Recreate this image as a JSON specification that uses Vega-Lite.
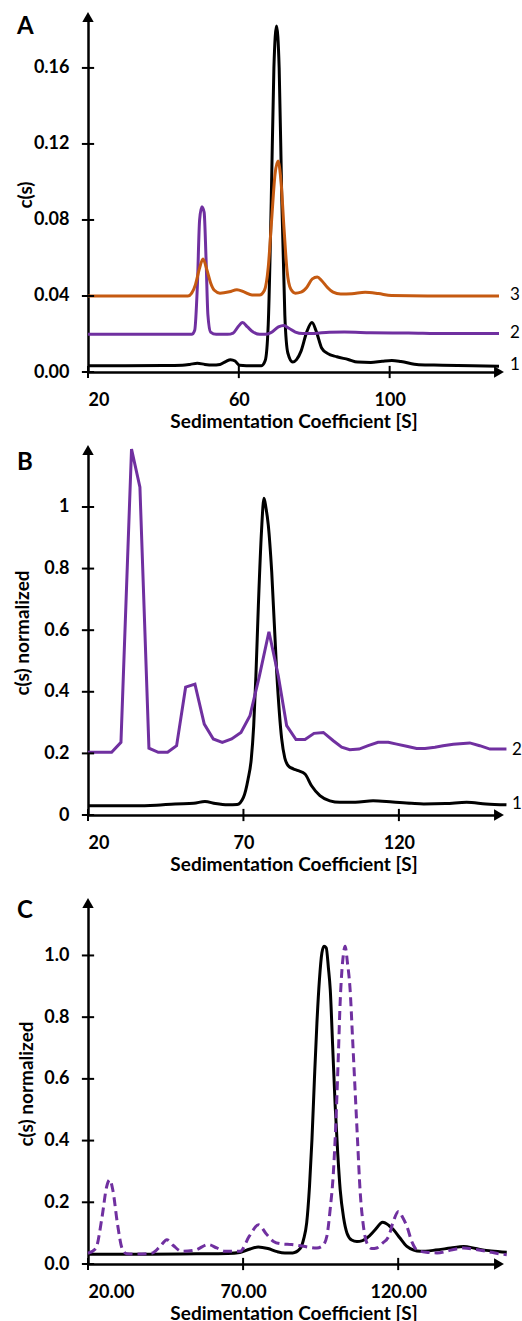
{
  "$schema": "https://vega.github.io/schema/vega-lite/v6.json",
  "padding": {"left": 13, "top": 12, "right": 0, "bottom": 0},
  "background": "white",
  "config": {
    "view": {"stroke": null},
    "font": "Lato",
    "axis": {
      "grid": false,
      "domainColor": "black",
      "domainWidth": 2.5,
      "ticks": false,
      "tickSize": 0,
      "labelFont": "Lato",
      "labelFontWeight": "bold",
      "labelFontSize": 18,
      "labelColor": "black",
      "titleFont": "Lato",
      "titleFontWeight": "bold",
      "titleFontSize": 19,
      "titleColor": "black"
    },
    "axisY": {"labelPadding": 19, "titlePadding": 4, "titleBaseline": "middle"},
    "axisX": {"labelPadding": 19, "titlePadding": 3}
  },
  "datasets": {
    "A1": [
      {"s":20,"c":0.0033},{"s":30,"c":0.0033},{"s":40,"c":0.0034},{"s":45,"c":0.0036},{"s":47,"c":0.004},{"s":49,"c":0.0046},{"s":51,"c":0.004},{"s":53,"c":0.0037},{"s":55,"c":0.004},{"s":56.5,"c":0.0055},{"s":57.8,"c":0.0065},{"s":59,"c":0.0058},{"s":60.2,"c":0.0035},{"s":62,"c":0.0033},{"s":66,"c":0.0033},{"s":67,"c":0.006},{"s":67.8,"c":0.025},{"s":68.6,"c":0.09},{"s":69.3,"c":0.16},{"s":70,"c":0.182},{"s":70.7,"c":0.16},{"s":71.4,"c":0.09},{"s":72.2,"c":0.03},{"s":73,"c":0.01},{"s":74.3,"c":0.0052},{"s":75.3,"c":0.0065},{"s":76.5,"c":0.011},{"s":78,"c":0.021},{"s":79.4,"c":0.026},{"s":80.6,"c":0.021},{"s":82,"c":0.0125},{"s":83.5,"c":0.0098},{"s":86,"c":0.008},{"s":89,"c":0.0066},{"s":91.5,"c":0.0052},{"s":95,"c":0.005},{"s":98,"c":0.0056},{"s":100.6,"c":0.006},{"s":103,"c":0.0055},{"s":107.7,"c":0.0038},{"s":114,"c":0.0036},{"s":122,"c":0.0033},{"s":129,"c":0.003}
    ],
    "A2": [
      {"s":20,"c":0.0198},{"s":30,"c":0.0198},{"s":40,"c":0.0198},{"s":47.5,"c":0.0198},{"s":48.3,"c":0.022},{"s":49,"c":0.045},{"s":49.6,"c":0.08},{"s":50.2,"c":0.087},{"s":50.8,"c":0.084},{"s":51.3,"c":0.06},{"s":51.8,"c":0.03},{"s":52.5,"c":0.021},{"s":54,"c":0.0198},{"s":57,"c":0.0198},{"s":58.5,"c":0.0205},{"s":59.8,"c":0.0238},{"s":61,"c":0.026},{"s":62.3,"c":0.0237},{"s":63.8,"c":0.021},{"s":65.5,"c":0.0198},{"s":67,"c":0.0198},{"s":68.5,"c":0.0207},{"s":70.5,"c":0.0237},{"s":71.9,"c":0.0245},{"s":73.3,"c":0.023},{"s":75,"c":0.021},{"s":77,"c":0.0202},{"s":80,"c":0.0203},{"s":84,"c":0.0209},{"s":88,"c":0.021},{"s":95,"c":0.0207},{"s":105,"c":0.0205},{"s":115,"c":0.0202},{"s":122,"c":0.0202},{"s":129,"c":0.0202}
    ],
    "A3": [
      {"s":20,"c":0.04},{"s":35,"c":0.04},{"s":46.5,"c":0.04},{"s":47.5,"c":0.0415},{"s":48.5,"c":0.046},{"s":49.5,"c":0.054},{"s":50.5,"c":0.0595},{"s":51.5,"c":0.054},{"s":52.5,"c":0.047},{"s":53.5,"c":0.043},{"s":55,"c":0.0415},{"s":57.5,"c":0.0422},{"s":59.5,"c":0.0433},{"s":61.5,"c":0.042},{"s":63.5,"c":0.0405},{"s":65.5,"c":0.0405},{"s":66.8,"c":0.043},{"s":67.8,"c":0.055},{"s":68.7,"c":0.08},{"s":69.6,"c":0.104},{"s":70.4,"c":0.111},{"s":71.2,"c":0.1},{"s":72,"c":0.075},{"s":72.8,"c":0.053},{"s":73.8,"c":0.0435},{"s":75,"c":0.0415},{"s":76.5,"c":0.042},{"s":78,"c":0.0445},{"s":79.5,"c":0.049},{"s":80.8,"c":0.05},{"s":82,"c":0.048},{"s":83.5,"c":0.0445},{"s":85,"c":0.042},{"s":87,"c":0.041},{"s":90,"c":0.0412},{"s":93.5,"c":0.042},{"s":97,"c":0.0413},{"s":100.5,"c":0.0402},{"s":110,"c":0.04},{"s":120,"c":0.04},{"s":129,"c":0.04}
    ],
    "B1": [
      {"s":20,"c":0.03},{"s":35,"c":0.03},{"s":42,"c":0.032},{"s":48,"c":0.036},{"s":54,"c":0.038},{"s":57.6,"c":0.044},{"s":61,"c":0.037},{"s":65,"c":0.033},{"s":68,"c":0.034},{"s":70,"c":0.057},{"s":71.5,"c":0.117},{"s":72.5,"c":0.18},{"s":73.3,"c":0.29},{"s":74,"c":0.45},{"s":74.8,"c":0.68},{"s":75.8,"c":0.92},{"s":76.6,"c":1.028},{"s":77.2,"c":1.0},{"s":78,"c":0.94},{"s":79.1,"c":0.788},{"s":80.7,"c":0.463},{"s":82.3,"c":0.247},{"s":83.3,"c":0.185},{"s":84.4,"c":0.16},{"s":86,"c":0.15},{"s":87.6,"c":0.144},{"s":89.8,"c":0.133},{"s":91.9,"c":0.095},{"s":94.6,"c":0.063},{"s":97.8,"c":0.046},{"s":101,"c":0.041},{"s":106,"c":0.041},{"s":111.7,"c":0.046},{"s":118,"c":0.042},{"s":124,"c":0.038},{"s":128,"c":0.036},{"s":135,"c":0.037},{"s":141.8,"c":0.041},{"s":148,"c":0.036},{"s":154.6,"c":0.033}
    ],
    "B2": [
      {"s":20,"c":0.2035},{"s":27.6,"c":0.2035},{"s":30.6,"c":0.236},{"s":34,"c":1.188},{"s":36.7,"c":1.064},{"s":39.6,"c":0.217},{"s":42.6,"c":0.2035},{"s":45.6,"c":0.2035},{"s":48.5,"c":0.225},{"s":51.4,"c":0.415},{"s":54.4,"c":0.425},{"s":57.4,"c":0.295},{"s":60.3,"c":0.247},{"s":63.2,"c":0.236},{"s":66.2,"c":0.247},{"s":69.2,"c":0.268},{"s":72.1,"c":0.322},{"s":75.1,"c":0.45},{"s":78.2,"c":0.595},{"s":81.2,"c":0.452},{"s":83.9,"c":0.29},{"s":86.9,"c":0.245},{"s":89.8,"c":0.245},{"s":92.7,"c":0.265},{"s":95.7,"c":0.268},{"s":98.9,"c":0.241},{"s":101.6,"c":0.22},{"s":104.2,"c":0.212},{"s":107.2,"c":0.214},{"s":110.1,"c":0.225},{"s":113.3,"c":0.236},{"s":116.6,"c":0.236},{"s":119.3,"c":0.23},{"s":122.5,"c":0.223},{"s":125.7,"c":0.216},{"s":128.4,"c":0.216},{"s":131.6,"c":0.22},{"s":134.2,"c":0.225},{"s":137.5,"c":0.23},{"s":142.8,"c":0.234},{"s":146,"c":0.225},{"s":149.3,"c":0.214},{"s":154.6,"c":0.214}
    ],
    "C1": [
      {"s":20,"c":0.032},{"s":40,"c":0.032},{"s":55,"c":0.033},{"s":65,"c":0.034},{"s":69,"c":0.037},{"s":72,"c":0.048},{"s":74.9,"c":0.055},{"s":78,"c":0.05},{"s":81,"c":0.04},{"s":83.5,"c":0.036},{"s":86,"c":0.036},{"s":88.4,"c":0.05},{"s":89.5,"c":0.08},{"s":90.5,"c":0.133},{"s":91.4,"c":0.25},{"s":92.2,"c":0.403},{"s":93,"c":0.6},{"s":93.8,"c":0.781},{"s":94.6,"c":0.92},{"s":95.4,"c":1.008},{"s":96.1,"c":1.03},{"s":96.8,"c":1.025},{"s":97.5,"c":0.96},{"s":98.1,"c":0.889},{"s":98.9,"c":0.7},{"s":99.7,"c":0.51},{"s":100.5,"c":0.36},{"s":101.3,"c":0.241},{"s":102.4,"c":0.15},{"s":103.5,"c":0.1},{"s":105,"c":0.078},{"s":106.7,"c":0.073},{"s":108.5,"c":0.076},{"s":109.9,"c":0.084},{"s":112.5,"c":0.11},{"s":115,"c":0.135},{"s":117,"c":0.125},{"s":118.5,"c":0.111},{"s":120.5,"c":0.085},{"s":122.8,"c":0.057},{"s":125,"c":0.045},{"s":127.1,"c":0.041},{"s":132,"c":0.045},{"s":137,"c":0.052},{"s":141.1,"c":0.057},{"s":145,"c":0.05},{"s":150,"c":0.042},{"s":155,"c":0.038}
    ],
    "C2": [
      {"s":20,"c":0.035},{"s":22.5,"c":0.05},{"s":24.5,"c":0.15},{"s":26,"c":0.25},{"s":27,"c":0.273},{"s":28,"c":0.24},{"s":29.5,"c":0.13},{"s":31,"c":0.05},{"s":32.5,"c":0.033},{"s":35,"c":0.032},{"s":40.5,"c":0.035},{"s":43.5,"c":0.06},{"s":45.4,"c":0.079},{"s":47.5,"c":0.06},{"s":50.2,"c":0.041},{"s":54.5,"c":0.045},{"s":58.8,"c":0.063},{"s":61.5,"c":0.052},{"s":64.2,"c":0.041},{"s":69,"c":0.041},{"s":72,"c":0.09},{"s":75,"c":0.127},{"s":77.3,"c":0.1},{"s":79.8,"c":0.073},{"s":82.5,"c":0.065},{"s":85.7,"c":0.063},{"s":89,"c":0.058},{"s":93.8,"c":0.052},{"s":95.7,"c":0.06},{"s":97,"c":0.09},{"s":98.1,"c":0.18},{"s":99.1,"c":0.295},{"s":100,"c":0.48},{"s":100.7,"c":0.673},{"s":101.3,"c":0.85},{"s":101.8,"c":0.943},{"s":102.3,"c":1.0},{"s":102.9,"c":1.03},{"s":103.6,"c":0.98},{"s":104.5,"c":0.889},{"s":105.3,"c":0.73},{"s":106.1,"c":0.565},{"s":106.9,"c":0.4},{"s":107.7,"c":0.241},{"s":108.7,"c":0.13},{"s":109.9,"c":0.068},{"s":111.5,"c":0.05},{"s":113.1,"c":0.052},{"s":115,"c":0.068},{"s":116.9,"c":0.089},{"s":118.5,"c":0.14},{"s":120.1,"c":0.17},{"s":121.5,"c":0.15},{"s":122.8,"c":0.122},{"s":124.5,"c":0.07},{"s":126,"c":0.046},{"s":129,"c":0.038},{"s":132.5,"c":0.036},{"s":137,"c":0.045},{"s":141.1,"c":0.052},{"s":145,"c":0.047},{"s":148.6,"c":0.041},{"s":152,"c":0.034},{"s":155,"c":0.03}
    ]
  },
  "vconcat": [
    {
      "spacing": 12,
      "vconcat": [
        {
          "width": 411,
          "height": 355,
          "layer": [
            {
              "data": {"name": "A1"},
              "mark": {"type": "line", "color": "black", "strokeWidth": 3, "interpolate": "monotone"},
              "encoding": {
                "x": {"field": "s", "type": "quantitative", "scale": {"domain": [20, 129], "nice": false, "zero": false},
                      "axis": {"values": [20, 60, 100], "title": "Sedimentation Coefficient [S]"}},
                "y": {"field": "c", "type": "quantitative", "scale": {"domain": [0, 0.1868], "nice": false},
                      "axis": {"values": [0, 0.04, 0.08, 0.12, 0.16], "format": ".2f", "title": "c(s)", "titleX": -63}}
              }
            },
            {
              "data": {"name": "A2"},
              "mark": {"type": "line", "color": "#7030A0", "strokeWidth": 3, "interpolate": "monotone"},
              "encoding": {"x": {"field": "s", "type": "quantitative"}, "y": {"field": "c", "type": "quantitative"}}
            },
            {
              "data": {"name": "A3"},
              "mark": {"type": "line", "color": "#C55A11", "strokeWidth": 3, "interpolate": "monotone"},
              "encoding": {"x": {"field": "s", "type": "quantitative"}, "y": {"field": "c", "type": "quantitative"}}
            },
            {
              "data": {"values": [{"c": 0}, {"c": 0.04}, {"c": 0.08}, {"c": 0.12}, {"c": 0.16}]},
              "mark": {"type": "point", "shape": "stroke", "filled": false, "color": "black", "size": 150, "strokeWidth": 2, "opacity": 1},
              "encoding": {"x": {"datum": 20}, "y": {"field": "c", "type": "quantitative"}}
            },
            {
              "data": {"values": [{"s": 20}, {"s": 60}, {"s": 100}]},
              "mark": {"type": "point", "shape": "stroke", "angle": 90, "filled": false, "color": "black", "size": 150, "strokeWidth": 2, "opacity": 1},
              "encoding": {"x": {"field": "s", "type": "quantitative"}, "y": {"datum": 0}}
            },
            {
              "data": {"values": [{}]},
              "mark": {"type": "point", "shape": "triangle-up", "filled": true, "color": "black", "size": 130, "opacity": 1},
              "encoding": {"x": {"datum": 20}, "y": {"datum": 0.1868}}
            },
            {
              "data": {"values": [{}]},
              "mark": {"type": "point", "shape": "triangle-right", "filled": true, "color": "black", "size": 130, "opacity": 1},
              "encoding": {"x": {"datum": 129}, "y": {"datum": 0}}
            },
            {
              "data": {"values": [{"s": 129, "c": 0.0035, "label": "1"}, {"s": 129, "c": 0.0205, "label": "2"}, {"s": 129, "c": 0.0405, "label": "3"}]},
              "mark": {"type": "text", "align": "left", "baseline": "middle", "dx": 11, "fontSize": 17, "font": "Lato", "color": "black"},
              "encoding": {"x": {"field": "s", "type": "quantitative"}, "y": {"field": "c", "type": "quantitative"}, "text": {"field": "label"}}
            },
            {
              "data": {"values": [{}]},
              "mark": {"type": "text", "text": "A", "align": "left", "baseline": "top", "dx": -71, "dy": -2, "fontSize": 24, "fontWeight": "bold", "font": "Lato", "color": "black"},
              "encoding": {"x": {"datum": 20}, "y": {"datum": 0.1868}}
            }
          ]
        },
        {
          "width": 411,
          "height": 365,
          "layer": [
            {
              "data": {"name": "B1"},
              "mark": {"type": "line", "color": "black", "strokeWidth": 3, "interpolate": "monotone"},
              "encoding": {
                "x": {"field": "s", "type": "quantitative", "scale": {"domain": [20, 152.2], "nice": false, "zero": false},
                      "axis": {"values": [20, 70, 120], "title": "Sedimentation Coefficient [S]"}},
                "y": {"field": "c", "type": "quantitative", "scale": {"domain": [0, 1.185], "nice": false},
                      "axis": {"values": [0, 0.2, 0.4, 0.6, 0.8, 1], "format": "~g", "title": "c(s) normalized", "titleX": -66}}
              }
            },
            {
              "data": {"name": "B2"},
              "mark": {"type": "line", "color": "#7030A0", "strokeWidth": 3, "interpolate": "linear"},
              "encoding": {"x": {"field": "s", "type": "quantitative"}, "y": {"field": "c", "type": "quantitative"}}
            },
            {
              "data": {"values": [{"c": 0}, {"c": 0.2}, {"c": 0.4}, {"c": 0.6}, {"c": 0.8}, {"c": 1}]},
              "mark": {"type": "point", "shape": "stroke", "filled": false, "color": "black", "size": 150, "strokeWidth": 2, "opacity": 1},
              "encoding": {"x": {"datum": 20}, "y": {"field": "c", "type": "quantitative"}}
            },
            {
              "data": {"values": [{"s": 20}, {"s": 70}, {"s": 120}]},
              "mark": {"type": "point", "shape": "stroke", "angle": 90, "filled": false, "color": "black", "size": 150, "strokeWidth": 2, "opacity": 1},
              "encoding": {"x": {"field": "s", "type": "quantitative"}, "y": {"datum": 0}}
            },
            {
              "data": {"values": [{}]},
              "mark": {"type": "point", "shape": "triangle-up", "filled": true, "color": "black", "size": 130, "opacity": 1},
              "encoding": {"x": {"datum": 20}, "y": {"datum": 1.185}}
            },
            {
              "data": {"values": [{}]},
              "mark": {"type": "point", "shape": "triangle-right", "filled": true, "color": "black", "size": 130, "opacity": 1},
              "encoding": {"x": {"datum": 152.2}, "y": {"datum": 0}}
            },
            {
              "data": {"values": [{"s": 152.2, "c": 0.037, "label": "1"}, {"s": 152.2, "c": 0.21, "label": "2"}]},
              "mark": {"type": "text", "align": "left", "baseline": "middle", "dx": 13, "fontSize": 17, "font": "Lato", "color": "black"},
              "encoding": {"x": {"field": "s", "type": "quantitative"}, "y": {"field": "c", "type": "quantitative"}, "text": {"field": "label"}}
            },
            {
              "data": {"values": [{}]},
              "mark": {"type": "text", "text": "B", "align": "left", "baseline": "top", "dx": -71, "dy": 1, "fontSize": 24, "fontWeight": "bold", "font": "Lato", "color": "black"},
              "encoding": {"x": {"datum": 20}, "y": {"datum": 1.185}}
            }
          ]
        }
      ]
    },
    {
      "width": 411,
      "height": 361,
      "layer": [
        {
          "data": {"name": "C1"},
          "mark": {"type": "line", "color": "black", "strokeWidth": 3, "interpolate": "monotone"},
          "encoding": {
            "x": {"field": "s", "type": "quantitative", "scale": {"domain": [20, 152.5], "nice": false, "zero": false},
                  "axis": {"values": [20, 70, 120], "format": ".2f", "title": "Sedimentation Coefficient [S]"}},
            "y": {"field": "c", "type": "quantitative", "scale": {"domain": [0, 1.17], "nice": false},
                  "axis": {"values": [0, 0.2, 0.4, 0.6, 0.8, 1], "format": ".1f", "title": "c(s) normalized", "titleX": -62}}
          }
        },
        {
          "data": {"name": "C2"},
          "mark": {"type": "line", "color": "#7030A0", "strokeWidth": 3, "strokeDash": [9, 5], "interpolate": "monotone"},
          "encoding": {"x": {"field": "s", "type": "quantitative"}, "y": {"field": "c", "type": "quantitative"}}
        },
        {
          "data": {"values": [{"c": 0}, {"c": 0.2}, {"c": 0.4}, {"c": 0.6}, {"c": 0.8}, {"c": 1}]},
          "mark": {"type": "point", "shape": "stroke", "filled": false, "color": "black", "size": 150, "strokeWidth": 2, "opacity": 1},
          "encoding": {"x": {"datum": 20}, "y": {"field": "c", "type": "quantitative"}}
        },
        {
          "data": {"values": [{"s": 20}, {"s": 70}, {"s": 120}]},
          "mark": {"type": "point", "shape": "stroke", "angle": 90, "filled": false, "color": "black", "size": 150, "strokeWidth": 2, "opacity": 1},
          "encoding": {"x": {"field": "s", "type": "quantitative"}, "y": {"datum": 0}}
        },
        {
          "data": {"values": [{}]},
          "mark": {"type": "point", "shape": "triangle-up", "filled": true, "color": "black", "size": 130, "opacity": 1},
          "encoding": {"x": {"datum": 20}, "y": {"datum": 1.17}}
        },
        {
          "data": {"values": [{}]},
          "mark": {"type": "point", "shape": "triangle-right", "filled": true, "color": "black", "size": 130, "opacity": 1},
          "encoding": {"x": {"datum": 152.5}, "y": {"datum": 0}}
        },
        {
          "data": {"values": [{}]},
          "mark": {"type": "text", "text": "C", "align": "left", "baseline": "top", "dx": -71, "dy": -4, "fontSize": 24, "fontWeight": "bold", "font": "Lato", "color": "black"},
          "encoding": {"x": {"datum": 20}, "y": {"datum": 1.17}}
        }
      ]
    }
  ],
  "spacing": 24
}
